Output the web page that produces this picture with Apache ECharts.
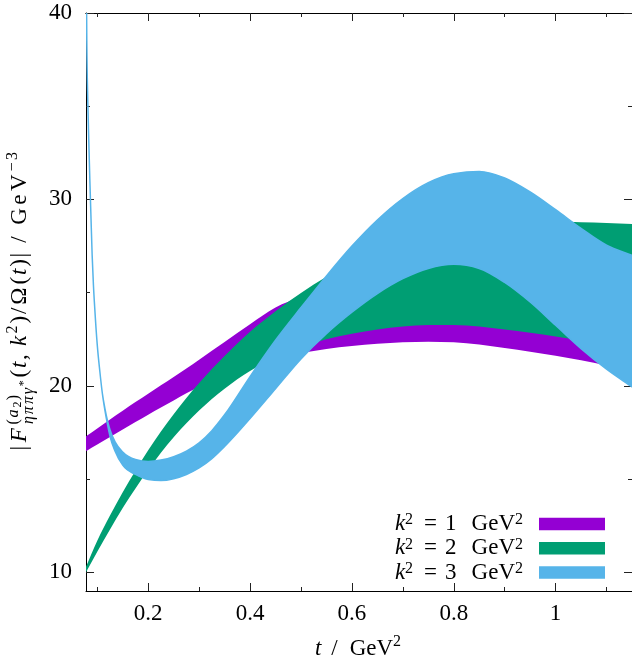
<!DOCTYPE html>
<html>
<head>
<meta charset="utf-8">
<script src="https://cdn.jsdelivr.net/npm/echarts@6/dist/echarts.min.js"></script>
<style>
html,body{margin:0;padding:0;background:#fff;}
#chart{width:632px;height:666px;}
</style>
</head>
<body>
<div id="chart"></div>
<script>
// ---------------- data ----------------
const tGrid = [0.0779, 0.1, 0.125, 0.15, 0.175, 0.2, 0.225, 0.25, 0.275, 0.3, 0.35, 0.4, 0.45, 0.5, 0.55, 0.6, 0.65, 0.7, 0.75, 0.8, 0.85, 0.9, 0.95, 1.0, 1.05, 1.1, 1.15];
const k1Lower = [16.5, 16.86, 17.26, 17.66, 18.06, 18.45, 18.84, 19.22, 19.6, 19.96, 20.6, 21.1, 21.48, 21.76, 21.98, 22.14, 22.26, 22.34, 22.37, 22.34, 22.22, 22.03, 21.83, 21.62, 21.38, 21.1, 20.8];
const k1Upper = [17.3, 17.72, 18.2, 18.67, 19.13, 19.58, 20.03, 20.48, 20.93, 21.4, 22.35, 23.3, 24.2, 24.75, 25.05, 25.2, 25.25, 25.22, 25.12, 24.98, 24.78, 24.55, 24.3, 24.02, 23.73, 23.42, 23.1];
const k2Lower = [10.0, 11.1, 12.3, 13.45, 14.5, 15.5, 16.42, 17.25, 18.0, 18.68, 19.85, 20.8, 21.55, 22.1, 22.5, 22.8, 23.02, 23.18, 23.27, 23.27, 23.18, 23.02, 22.85, 22.65, 22.42, 22.18, 21.92];
const k2Upper = [10.3, 11.7, 13.05, 14.3, 15.45, 16.55, 17.55, 18.48, 19.35, 20.15, 21.6, 22.9, 24.0, 24.98, 25.85, 26.6, 27.22, 27.72, 28.1, 28.38, 28.58, 28.7, 28.77, 28.8, 28.78, 28.74, 28.68];
const tGrid3 = [0.0779, 0.0795, 0.0815, 0.0835, 0.0855, 0.0875, 0.09, 0.0925, 0.095, 0.1, 0.105, 0.11, 0.115, 0.12, 0.125, 0.135, 0.15, 0.175, 0.2, 0.225, 0.25, 0.275, 0.3, 0.325, 0.35, 0.4, 0.45, 0.5, 0.55, 0.6, 0.65, 0.7, 0.75, 0.8, 0.85, 0.9, 0.95, 1.0, 1.05, 1.1, 1.15];
const k3Lower = [45, 38.5, 35.2, 33.0, 31.0, 29.2, 27.0, 25.4, 24.2, 22.2, 20.8, 19.6, 18.7, 17.95, 17.3, 16.5, 15.75, 15.25, 14.98, 14.92, 15.02, 15.25, 15.6, 16.1, 16.75, 18.25, 19.85, 21.45, 22.8, 23.95, 24.95, 25.75, 26.3, 26.52, 26.3, 25.55, 24.5, 23.25, 22.0, 20.9, 19.95];
const k3Upper = [45, 38.5, 35.2, 33.0, 31.0, 29.2, 27.0, 25.4, 24.2, 22.2, 20.8, 19.6, 18.8, 18.15, 17.65, 17.0, 16.45, 16.05, 15.95, 16.02, 16.2, 16.5, 16.95, 17.6, 18.45, 20.5, 22.45, 24.2, 25.9, 27.5, 28.9, 30.05, 30.9, 31.38, 31.5, 31.15, 30.4, 29.45, 28.45, 27.55, 27.0];

const bandNames = ['k2 = 1 GeV2', 'k2 = 2 GeV2', 'k2 = 3 GeV2'];
const bandK = ['1', '2', '3'];
const bandColors = ['#9400d3', '#009e73', '#56b4e9'];

const xTickLabels = [0.2, 0.4, 0.6, 0.8, 1];
const xMinorTicks = [0.1, 0.3, 0.5, 0.7, 0.9, 1.1];
const yTickLabels = [10, 20, 30, 40];
const yMinorTicks = [15, 25, 35];
const X_MIN = 0.0779, X_MAX = 1.15, Y_MIN = 9, Y_MAX = 40;

// ---------------- text helpers ----------------
const FONT = '"Liberation Serif", "Times New Roman", serif';
const mctx = document.createElement('canvas').getContext('2d');
function textW(t, s, it) { mctx.font = (it ? 'italic ' : '') + s + 'px ' + FONT; return mctx.measureText(t).width; }
function layoutRun(pieces, x0, k) {
  const els = []; let x = x0;
  for (const p of pieces) {
    if (p.gap !== undefined) { x += p.gap * k; continue; }
    if (p.stack) {
      let mx = 0;
      for (const sub of p.stack) { const r = layoutRun(sub, x, k); els.push(...r.els); mx = Math.max(mx, r.x - x); }
      x += mx; continue;
    }
    for (const ch of Array.from(p.t)) {
      const cw = textW(ch, p.s, p.it);
      els.push({
        type: 'text', x: x + cw * (k - 1) / 2, y: (p.dy || 0) - 0.34 * p.s, silent: true,
        style: { text: ch, fontSize: p.s, fontFamily: FONT, fontStyle: p.it ? 'italic' : 'normal',
                 fill: '#000', align: 'left', verticalAlign: 'middle', textAlign: 'left', textVerticalAlign: 'middle' }
      });
      x += cw * k;
    }
  }
  return { els, x };
}
function centeredGroup(pieces, cx, cy, rot, target) {
  const w0 = layoutRun(pieces, 0, 1).x;
  const k = target ? target / w0 : 1;
  const r = layoutRun(pieces, -w0 * k / 2, k);
  return { type: 'group', x: cx, y: cy, rotation: rot || 0, children: r.els, silent: true };
}

const M = 23, S = 16, SS = 12;
const yNamePieces = [
  { t: '|', s: M }, { gap: 1 },
  { t: 'F', s: M, it: 1 }, { gap: 1 },
  { stack: [
    [{ t: '(', s: S, dy: -9 }, { t: 'a', s: S, it: 1, dy: -9 }, { t: '2', s: SS, dy: -6 }, { t: ')', s: S, dy: -9 }],
    [{ t: 'ηππγ', s: S, it: 1, dy: 6 }, { t: '*', s: SS, dy: 0 }]
  ] },
  { gap: 1 },
  { t: '(', s: M }, { t: 't', s: M, it: 1 }, { t: ',', s: M }, { gap: 5 }, { t: 'k', s: M, it: 1 },
  { t: '2', s: S, dy: -10 }, { t: ')/Ω(', s: M }, { t: 't', s: M, it: 1 }, { t: ')|', s: M },
  { gap: 7 }, { t: '/', s: M }, { gap: 7 }, { t: 'GeV', s: M }, { t: '−3', s: S, dy: -10 }
];
const xNamePieces = [
  { t: 't', s: M, it: 1 }, { gap: 10 }, { t: '/', s: M }, { gap: 12 }, { t: 'GeV', s: M }, { t: '2', s: S, dy: -10 }
];

// ---------------- band path (Steffen monotone cubic through the data points) ----------------
function tangents(P) {
  const n = P.length, d = [], s = [], m = new Array(n);
  for (let i = 0; i < n - 1; i++) { d[i] = P[i + 1][0] - P[i][0]; s[i] = (P[i + 1][1] - P[i][1]) / (d[i] || 1e-9); }
  m[0] = s[0]; m[n - 1] = s[n - 2];
  for (let i = 1; i < n - 1; i++) {
    const p = (s[i - 1] * d[i] + s[i] * d[i - 1]) / (d[i - 1] + d[i]);
    if (s[i - 1] * s[i] <= 0) m[i] = 0;
    else m[i] = Math.sign(s[i]) * Math.min(2 * Math.abs(s[i - 1]), 2 * Math.abs(s[i]), Math.abs(p));
  }
  return m;
}
function f(v) { return v.toFixed(2); }
function bandPath(U, L) {
  const mu = tangents(U), ml = tangents(L);
  let p = 'M' + f(U[0][0]) + ' ' + f(U[0][1]);
  for (let i = 0; i < U.length - 1; i++) {
    const h = (U[i + 1][0] - U[i][0]) / 3;
    p += ' C' + f(U[i][0] + h) + ' ' + f(U[i][1] + mu[i] * h) + ' ' + f(U[i + 1][0] - h) + ' ' + f(U[i + 1][1] - mu[i + 1] * h) + ' ' + f(U[i + 1][0]) + ' ' + f(U[i + 1][1]);
  }
  const n = L.length;
  p += ' L' + f(L[n - 1][0]) + ' ' + f(L[n - 1][1]);
  for (let i = n - 1; i > 0; i--) {
    const h = (L[i][0] - L[i - 1][0]) / 3;
    p += ' C' + f(L[i][0] - h) + ' ' + f(L[i][1] - ml[i] * h) + ' ' + f(L[i - 1][0] + h) + ' ' + f(L[i - 1][1] + ml[i - 1] * h) + ' ' + f(L[i - 1][0]) + ' ' + f(L[i - 1][1]);
  }
  return p + ' Z';
}

const bands = [
  { t: tGrid, lo: k1Lower, hi: k1Upper, stroke: 0 },
  { t: tGrid, lo: k2Lower, hi: k2Upper, stroke: 0 },
  { t: tGrid3, lo: k3Lower, hi: k3Upper, stroke: 1.5 }
];
const series = bands.map((b, i) => ({
  name: bandNames[i], type: 'custom', coordinateSystem: 'cartesian2d', clip: true, silent: true,
  xAxisIndex: 0, yAxisIndex: 0, z: 2 + i,
  itemStyle: { color: bandColors[i] },
  data: [[b.t[0], b.lo[0]]],
  renderItem: function (params, api) {
    const U = b.t.map((t, j) => api.coord([t, b.hi[j]]));
    const L = b.t.map((t, j) => api.coord([t, b.lo[j]]));
    const cs = params.coordSys;
    return {
      type: 'path',
      shape: { pathData: bandPath(U, L) },
      style: { fill: bandColors[i], stroke: b.stroke ? bandColors[i] : null, lineWidth: b.stroke, lineJoin: 'round' },
      clipPath: { type: 'rect', shape: { x: cs.x, y: cs.y, width: cs.width, height: cs.height } }
    };
  }
}));

function xAxisDef(pos, ticks, len, labels) {
  return {
    type: 'value', position: pos, min: X_MIN, max: X_MAX,
    axisLine: { show: !!labels || pos === 'top', onZero: false, lineStyle: { color: '#000', width: 1 } },
    axisTick: { show: true, inside: true, length: len, customValues: ticks, lineStyle: { color: '#222', width: 1 } },
    axisLabel: labels ? { show: true, customValues: labels, margin: 11, fontSize: 23, fontFamily: FONT, color: '#000', formatter: v => String(v) } : { show: false },
    splitLine: { show: false }, minorTick: { show: false }
  };
}
function yAxisDef(pos, ticks, len, labels) {
  return {
    type: 'value', position: pos, min: Y_MIN, max: Y_MAX,
    axisLine: { show: !!labels || pos === 'right', onZero: false, lineStyle: { color: '#000', width: 1 } },
    axisTick: { show: true, inside: true, length: len, customValues: ticks, lineStyle: { color: '#222', width: 1 } },
    axisLabel: labels ? { show: true, customValues: labels, margin: 14, fontSize: 23, fontFamily: FONT, color: '#000', formatter: v => String(v) } : { show: false },
    splitLine: { show: false }, minorTick: { show: false }
  };
}

const legendRich = {
  k: { fontFamily: FONT, fontSize: M, fontStyle: 'italic', lineHeight: 24, verticalAlign: 'middle', color: '#000' },
  s: { fontFamily: FONT, fontSize: S, lineHeight: 12, verticalAlign: 'top', color: '#000' },
  sl: { fontFamily: FONT, fontSize: S, lineHeight: 12, verticalAlign: 'top', color: '#000', padding: [0, 11, 0, 0] },
  e: { fontFamily: FONT, fontSize: M, lineHeight: 24, verticalAlign: 'middle', color: '#000', padding: [0, 8, 0, 11] },
  n: { fontFamily: FONT, fontSize: M, lineHeight: 24, verticalAlign: 'middle', color: '#000', padding: [0, 15, 0, 0] },
  g: { fontFamily: FONT, fontSize: M, lineHeight: 24, verticalAlign: 'middle', color: '#000' }
};

const option = {
  animation: false,
  backgroundColor: '#fff',
  grid: { left: 86, right: -1, top: 13, bottom: 75 },
  xAxis: [
    xAxisDef('bottom', xTickLabels, 8, xTickLabels),
    xAxisDef('bottom', xMinorTicks, 4, null),
    xAxisDef('top', xTickLabels, 8, null),
    xAxisDef('top', xMinorTicks, 4, null)
  ],
  yAxis: [
    yAxisDef('left', yTickLabels, 8, yTickLabels),
    yAxisDef('left', yMinorTicks, 4, null),
    yAxisDef('right', yTickLabels, 8, null),
    yAxisDef('right', yMinorTicks, 4, null)
  ],
  legend: {
    orient: 'vertical', right: 27, top: 512, align: 'right', padding: 0,
    itemWidth: 66, itemHeight: 12.5, itemGap: 0.3, icon: 'rect',
    data: bandNames.map((n, i) => ({ name: n, itemStyle: { color: bandColors[i], borderWidth: 0 } })),
    formatter: name => {
      const i = bandNames.indexOf(name);
      return '{k|k}{s|2}{e|=}{n|' + bandK[i] + '}{g|GeV}{sl|2}';
    },
    textStyle: { fontFamily: FONT, fontSize: M, color: '#000', lineHeight: 24, rich: legendRich },
    selectedMode: false
  },
  graphic: { elements: [
    centeredGroup(yNamePieces, 28, 301, Math.PI / 2, 300),
    centeredGroup(xNamePieces, 358, 657, 0)
  ] },
  series: series
};

const chart = echarts.init(document.getElementById('chart'), null, { renderer: 'canvas' });
chart.setOption(option);
</script>
</body>
</html>
